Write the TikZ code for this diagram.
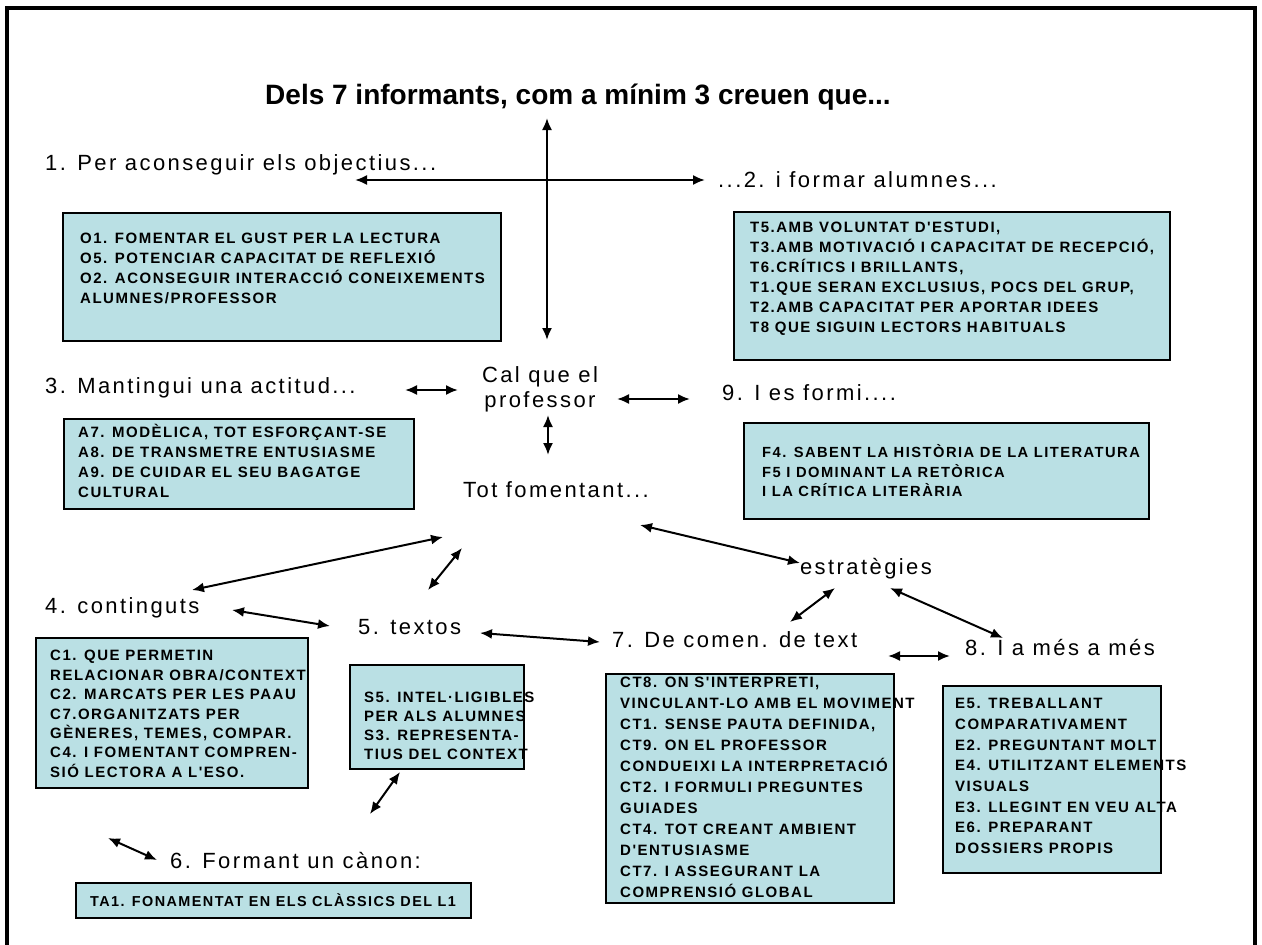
\documentclass[tikz,border=0pt]{standalone}
\usepackage{fontspec}
\setmainfont{Liberation Sans}
\newfontfamily\labfont[LetterSpace=11]{Liberation Sans}
\newfontfamily\capsfont[LetterSpace=10]{Liberation Sans}
\usetikzlibrary{arrows.meta,calc}
\definecolor{boxfill}{RGB}{186,224,228}
\begin{document}
\begin{tikzpicture}[x=1pt,y=-1pt,
  lab/.style={font=\labfont\fontsize{22}{26}\selectfont, inner sep=0pt},
  heading/.style={font=\bfseries\fontsize{28}{32}\selectfont, inner sep=0pt},
  panel/.style={draw=black, line width=2pt, fill=boxfill, inner sep=0pt, anchor=north west},
  paneltext/.style={font=\capsfont\bfseries\fontsize{15}{20}\selectfont, align=left, inner sep=0pt, anchor=west},
  link/.style={line width=2pt, {Latex[length=12pt,width=10pt]}-{Latex[length=12pt,width=10pt]}},
]
\useasboundingbox (0,0) rectangle (1262,945);
\fill[white] (0,0) rectangle (1262,945);
% frame
\draw[line width=4pt] (7,945) -- (7,8) -- (1255,8) -- (1255,945);

% heading and labels
\node[heading] (title) at (578,97) {Dels 7 informants, com a mínim 3 creuen que...};
\node[lab, anchor=west] (l1) at (45,165) {1. Per aconseguir els objectius...};
\node[lab, anchor=west] (l2) at (718,180) {...2. i formar alumnes...};
\node[lab, anchor=west] (l3) at (45,388) {3. Mantingui una actitud...};
\node[lab, align=center] (cal) at (540,389) {Cal que el\\[-1pt]professor};
\node[lab, anchor=west] (l9) at (722,393) {9. I es formi....};
\node[lab] (tot) at (556,490) {Tot fomentant...};
\node[lab] (estr) at (866,569) {estratègies};
\node[lab, anchor=west] (l4) at (45,608) {4. continguts};
\node[lab, anchor=west] (l5) at (358,627) {5. textos};
\node[lab, anchor=west] (l7) at (612,640) {7. De comen. de text};
\node[lab, anchor=west] (l8) at (965,648) {8. I a més a més};
\node[lab, anchor=west] (l6) at (170,860) {6. Formant un cànon:};

% panels
\node[panel, minimum width=438pt, minimum height=128pt] (po) at (62,212) {};
\node[paneltext] (to) at (80,268) {O1. FOMENTAR EL GUST PER LA LECTURA\\O5. POTENCIAR CAPACITAT DE REFLEXIÓ\\O2. ACONSEGUIR INTERACCIÓ CONEIXEMENTS\\ALUMNES/PROFESSOR};

\node[panel, minimum width=436pt, minimum height=148pt] (pt) at (733,211) {};
\node[paneltext] (tt) at (750,279) {T5.AMB VOLUNTAT D'ESTUDI,\\T3.AMB MOTIVACIÓ I CAPACITAT DE RECEPCIÓ,\\T6.CRÍTICS I BRILLANTS,\\T1.QUE SERAN EXCLUSIUS, POCS DEL GRUP,\\T2.AMB CAPACITAT PER APORTAR IDEES\\T8 QUE SIGUIN LECTORS HABITUALS};

\node[panel, minimum width=350pt, minimum height=90pt] (pa) at (63,418) {};
\node[paneltext] (ta) at (78,461) {A7. MODÈLICA, TOT ESFORÇANT-SE\\A8. DE TRANSMETRE ENTUSIASME\\A9. DE CUIDAR EL SEU BAGATGE\\CULTURAL};

\node[panel, minimum width=405pt, minimum height=96pt] (pf) at (743,422) {};
\node[paneltext, font=\capsfont\bfseries\fontsize{14.7}{19.5}\selectfont] (tf) at (762,471) {F4. SABENT LA HISTÒRIA DE LA LITERATURA\\F5 I DOMINANT LA RETÒRICA\\I LA CRÍTICA LITERÀRIA};

\node[panel, minimum width=272pt, minimum height=150pt] (pc) at (35,637) {};
\node[paneltext, font=\capsfont\bfseries\fontsize{15}{19.4}\selectfont] (tc) at (50,714) {C1. QUE PERMETIN\\RELACIONAR OBRA/CONTEXT\\C2. MARCATS PER LES PAAU\\C7.ORGANITZATS PER\\GÈNERES, TEMES, COMPAR.\\C4. I FOMENTANT COMPREN-\\SIÓ LECTORA A L'ESO.};

\node[panel, minimum width=174pt, minimum height=104pt] (ps) at (349,664) {};
\node[paneltext, font=\capsfont\bfseries\fontsize{15}{19}\selectfont] (ts) at (364,726) {S5. INTEL·LIGIBLES\\PER ALS ALUMNES\\S3. REPRESENTA-\\TIUS DEL CONTEXT};

\node[panel, minimum width=288pt, minimum height=229pt] (pct) at (605,673) {};
\node[paneltext, font=\capsfont\bfseries\fontsize{15}{21}\selectfont] (tct) at (620,787) {CT8. ON S'INTERPRETI,\\VINCULANT-LO AMB EL MOVIMENT\\CT1. SENSE PAUTA DEFINIDA,\\CT9. ON EL PROFESSOR\\CONDUEIXI LA INTERPRETACIÓ\\CT2. I FORMULI PREGUNTES\\GUIADES\\CT4. TOT CREANT AMBIENT\\D'ENTUSIASME\\CT7. I ASSEGURANT LA\\COMPRENSIÓ GLOBAL};

\node[panel, minimum width=218pt, minimum height=187pt] (pe) at (942,685) {};
\node[paneltext, font=\capsfont\bfseries\fontsize{15}{20.7}\selectfont] (te) at (955,776) {E5. TREBALLANT\\COMPARATIVAMENT\\E2. PREGUNTANT MOLT\\E4. UTILITZANT ELEMENTS\\VISUALS\\E3. LLEGINT EN VEU ALTA\\E6. PREPARANT\\DOSSIERS PROPIS};

\node[panel, minimum width=395pt, minimum height=35pt] (pta) at (75,882) {};
\node[paneltext, font=\capsfont\bfseries\fontsize{14.4}{20}\selectfont] (tta) at (90,900) {TA1. FONAMENTAT EN ELS CLÀSSICS DEL L1};

% connector ends
\coordinate (vtop) at (547,118);
\coordinate (vbot) at (547,340);
\coordinate (hl) at (355,180);
\coordinate (hr) at (705,180);
\coordinate (c3a) at (405,390);  \coordinate (c3b) at (458,390);
\coordinate (c9a) at (617,399);  \coordinate (c9b) at (690,399);
\coordinate (cta) at (548,415);  \coordinate (ctb) at (548,455);
\coordinate (t4a) at (443,537);  \coordinate (t4b) at (192,590);
\coordinate (t5a) at (462,548);  \coordinate (t5b) at (428,590);
\coordinate (tea) at (640,525);  \coordinate (teb) at (800,563);
\coordinate (e7a) at (835,588);  \coordinate (e7b) at (790,622);
\coordinate (e8a) at (890,588);  \coordinate (e8b) at (1003,638);
\coordinate (f45a) at (232,610); \coordinate (f45b) at (330,626);
\coordinate (f57a) at (480,633); \coordinate (f57b) at (600,642);
\coordinate (f78a) at (888,656); \coordinate (f78b) at (950,656);
\coordinate (c6a) at (108,838);  \coordinate (c6b) at (157,860);
\coordinate (s6a) at (400,772);  \coordinate (s6b) at (370,814);

\draw[link] (vtop) -- (vbot);
\draw[link] (hl) -- (hr);
\draw[link] (c3a) -- (c3b);
\draw[link] (c9a) -- (c9b);
\draw[link] (cta) -- (ctb);
\draw[link] (t4a) -- (t4b);
\draw[link] (t5a) -- (t5b);
\draw[link] (tea) -- (teb);
\draw[link] (e7a) -- (e7b);
\draw[link] (e8a) -- (e8b);
\draw[link] (f45a) -- (f45b);
\draw[link] (f57a) -- (f57b);
\draw[link] (f78a) -- (f78b);
\draw[link] (c6a) -- (c6b);
\draw[link] (s6a) -- (s6b);
\end{tikzpicture}
\end{document}
